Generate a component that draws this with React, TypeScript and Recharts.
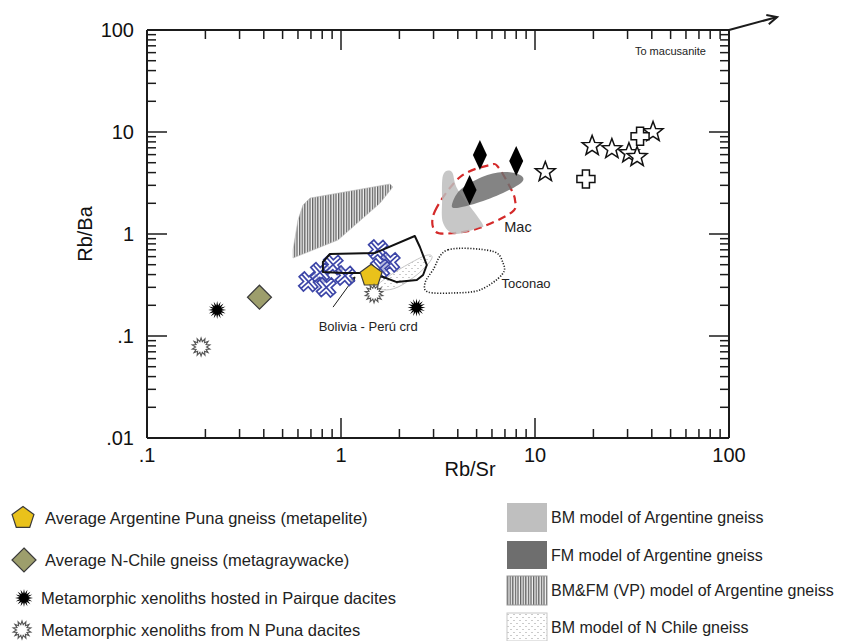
import React from 'react';
import { ScatterChart, Scatter, XAxis, YAxis, ReferenceLine } from 'recharts';

// Rb/Sr (x) vs Rb/Ba (y)
const punaGneiss = [{ x: 1.43, y: 0.39 }];
const chileGneiss = [{ x: 0.38, y: 0.24 }];
const pairqueXenoliths = [{ x: 0.23, y: 0.18 }, { x: 2.45, y: 0.19 }];
const nPunaXenoliths = [{ x: 0.19, y: 0.078 }, { x: 1.48, y: 0.26 }];
const macDiamonds = [{ x: 5.2, y: 5.95 }, { x: 8.0, y: 5.2 }, { x: 4.6, y: 2.7 }];
const openStars = [
  { x: 11.3, y: 4.05 }, { x: 19.7, y: 7.3 }, { x: 24.9, y: 6.8 },
  { x: 30.5, y: 6.2 }, { x: 33.6, y: 5.7 }, { x: 40.6, y: 10 },
];
const openCrosses = [{ x: 18.3, y: 3.46 }, { x: 34.8, y: 9.1 }];
const boliviaPeruCrd = [
  { x: 0.68, y: 0.34 }, { x: 0.78, y: 0.42 }, { x: 0.91, y: 0.5 }, { x: 1.05, y: 0.39 },
  { x: 0.84, y: 0.3 }, { x: 1.55, y: 0.7 }, { x: 1.79, y: 0.53 }, { x: 1.59, y: 0.46 },
];

// model fields / outlines
const vpField = [
  { x: 0.637, y: 1.92 }, { x: 0.692, y: 2.25 }, { x: 1.79, y: 3.09 }, { x: 1.85, y: 2.89 },
  { x: 1.59, y: 2.01 }, { x: 0.965, y: 0.873 }, { x: 0.566, y: 0.582 }, { x: 0.566, y: 0.697 },
  { x: 0.6, y: 1.37 },
];
const bmArgField = [
  { x: 3.36, y: 3.79 }, { x: 3.73, y: 4.05 }, { x: 4.01, y: 2.7 }, { x: 5.33, y: 1.28 },
  { x: 5.08, y: 1.15 }, { x: 3.87, y: 1.0 }, { x: 3.36, y: 1.28 }, { x: 3.32, y: 2.15 },
];
const fmArgField = [
  { x: 3.73, y: 1.92 }, { x: 4.11, y: 2.7 }, { x: 5.33, y: 3.62 }, { x: 6.84, y: 4.05 },
  { x: 8.37, y: 3.79 }, { x: 8.57, y: 3.24 }, { x: 6.84, y: 2.52 }, { x: 5.02, y: 2.01 },
  { x: 3.96, y: 1.8 },
];
const bmChileField = [
  { x: 1.55, y: 0.316 }, { x: 1.9, y: 0.424 }, { x: 2.55, y: 0.582 }, { x: 2.88, y: 0.622 },
  { x: 2.91, y: 0.556 }, { x: 2.49, y: 0.405 }, { x: 1.97, y: 0.302 }, { x: 1.65, y: 0.283 },
];
const macField = [
  { x: 3.05, y: 1.68 }, { x: 4.11, y: 3.62 }, { x: 5.86, y: 4.75 }, { x: 6.45, y: 4.54 },
  { x: 7.43, y: 2.89 }, { x: 7.89, y: 2.15 }, { x: 7.61, y: 1.64 }, { x: 5.2, y: 1.15 },
  { x: 3.78, y: 1.02 }, { x: 3.05, y: 1.07 },
];
const toconaoField = [
  { x: 3.56, y: 0.7 }, { x: 6.0, y: 0.68 }, { x: 6.84, y: 0.52 }, { x: 6.76, y: 0.4 },
  { x: 5.2, y: 0.283 }, { x: 3.78, y: 0.264 }, { x: 2.81, y: 0.27 }, { x: 2.71, y: 0.331 },
  { x: 2.98, y: 0.444 },
];
const boliviaPeruField = [
  { x: 0.807, y: 0.531 }, { x: 0.877, y: 0.637 }, { x: 1.5, y: 0.652 }, { x: 2.4, y: 0.955 },
  { x: 2.55, y: 0.746 }, { x: 2.77, y: 0.497 }, { x: 2.65, y: 0.396 }, { x: 2.46, y: 0.354 },
  { x: 1.94, y: 0.338 }, { x: 1.65, y: 0.379 }, { x: 1.25, y: 0.415 }, { x: 1.02, y: 0.415 },
  { x: 0.807, y: 0.424 },
];

const fieldLabels = [
  { x: 8.17, y: 1.17, text: 'Mac', size: 14.5, anchor: 'middle' },
  { x: 8.99, y: 0.324, text: 'Toconao', size: 13, anchor: 'middle' },
  { x: 1.38, y: 0.125, text: 'Bolivia - Perú crd', size: 13, anchor: 'middle' },
  { x: 76, y: 62, text: 'To macusanite', size: 11, anchor: 'end' },
];
const crdPointer = [{ x: 0.91, y: 0.192 }, { x: 1.18, y: 0.379 }];
const macusaniteArrow = [{ x: 100, y: 100 }, { x: 177, y: 134 }];

const xTicks = [0.1, 0.2, 0.3, 0.4, 0.5, 0.6, 0.7, 0.8, 0.9, 1, 2, 3, 4, 5, 6, 7, 8, 9, 10, 20, 30, 40, 50, 60, 70, 80, 90, 100];
const yTicks = [0.01, 0.02, 0.03, 0.04, 0.05, 0.06, 0.07, 0.08, 0.09, ...xTicks];

const INK = '#1b1b1b';
const FONT = '"Liberation Sans", Arial, sans-serif';

const isMajor = (v: number) => Math.abs(Math.log10(v) - Math.round(Math.log10(v))) < 1e-6;
const fmt = (v: number) => (v < 1 ? String(v).replace(/^0/, '') : String(v));
const tickLen = (v: number) => (isMajor(v) ? 20 : 9);

const BottomTick = ({ x, y, payload }: any) => (
  <g>
    <line x1={x} x2={x} y1={y} y2={y - tickLen(payload.value)} stroke={INK} strokeWidth={1.5} />
    {isMajor(payload.value) && (
      <text x={x} y={y + 24} textAnchor="middle" fontSize={20} fill="#111">{fmt(payload.value)}</text>
    )}
  </g>
);
const TopTick = ({ x, y, payload }: any) => (
  <line x1={x} x2={x} y1={y} y2={y + tickLen(payload.value)} stroke={INK} strokeWidth={1.5} />
);
const LeftTick = ({ x, y, payload }: any) => (
  <g>
    <line x1={x} x2={x + tickLen(payload.value)} y1={y} y2={y} stroke={INK} strokeWidth={1.5} />
    {isMajor(payload.value) && (
      <text x={x - 13} y={y + 7} textAnchor="end" fontSize={20} fill="#111">{fmt(payload.value)}</text>
    )}
  </g>
);
const RightTick = ({ x, y, payload }: any) => (
  <line x1={x} x2={x - tickLen(payload.value)} y1={y} y2={y} stroke={INK} strokeWidth={1.5} />
);

const polyPoints = (cx: number, cy: number, n: number, ro: number, ri: number) => {
  let d = '';
  for (let i = 0; i < n * 2; i++) {
    const r = i % 2 === 0 ? ro : ri;
    const a = -Math.PI / 2 + (i * Math.PI) / n;
    d += (i === 0 ? 'M' : 'L') + (cx + r * Math.cos(a)).toFixed(2) + ',' + (cy + r * Math.sin(a)).toFixed(2);
  }
  return d + 'Z';
};
const pentagon = (cx: number, cy: number, r: number) => polyPoints(cx, cy, 5, r, r * Math.cos(Math.PI / 5));

const closedPath = (pts: { x: number; y: number }[], smooth: boolean) => {
  if (!pts.length) return '';
  if (!smooth) return pts.map((p, i) => `${i ? 'L' : 'M'}${p.x.toFixed(1)},${p.y.toFixed(1)}`).join('') + 'Z';
  const n = pts.length;
  let d = `M${pts[0].x.toFixed(1)},${pts[0].y.toFixed(1)}`;
  for (let i = 0; i < n; i++) {
    const p0 = pts[(i - 1 + n) % n], p1 = pts[i], p2 = pts[(i + 1) % n], p3 = pts[(i + 2) % n];
    const c1x = p1.x + (p2.x - p0.x) / 6, c1y = p1.y + (p2.y - p0.y) / 6;
    const c2x = p2.x - (p3.x - p1.x) / 6, c2y = p2.y - (p3.y - p1.y) / 6;
    d += `C${c1x.toFixed(1)},${c1y.toFixed(1)} ${c2x.toFixed(1)},${c2y.toFixed(1)} ${p2.x.toFixed(1)},${p2.y.toFixed(1)}`;
  }
  return d + 'Z';
};

const fieldLine = (style: any, smooth: boolean, defs?: React.ReactNode) => (props: any) => (
  <g>
    {defs}
    <path d={closedPath(props.points || [], smooth)} {...style} />
  </g>
);
const noDot = () => <g />;

const HatchDefs = ({ id }: { id: string }) => (
  <defs>
    <pattern id={id} patternUnits="userSpaceOnUse" width={2.6} height={10}>
      <rect width={2.6} height={10} fill="#f4f4f4" />
      <line x1={0.7} x2={0.7} y1={0} y2={10} stroke="#333" strokeWidth={1} />
    </pattern>
  </defs>
);
const DotDefs = ({ id }: { id: string }) => (
  <defs>
    <pattern id={id} patternUnits="userSpaceOnUse" width={6} height={6}>
      <rect width={6} height={6} fill="#fff" />
      <circle cx={1} cy={1.5} r={0.55} fill="#888" />
      <circle cx={4} cy={4.5} r={0.55} fill="#888" />
    </pattern>
  </defs>
);

const PentagonShape = ({ cx, cy }: any) => (
  <path d={pentagon(cx, cy, 11.5)} fill="#e9c21b" stroke="#3a3a3a" strokeWidth={1.2} />
);
const KhakiDiamond = ({ cx, cy }: any) => (
  <path d={`M${cx},${cy - 12}L${cx + 12},${cy}L${cx},${cy + 12}L${cx - 12},${cy}Z`} fill="#9d9e6c" stroke="#3a3a3a" strokeWidth={1.2} />
);
const BlackBurst = ({ cx, cy }: any) => <path d={polyPoints(cx, cy, 16, 9, 4.5)} fill="#000" />;
const WhiteBurst = ({ cx, cy }: any) => (
  <path d={polyPoints(cx, cy, 14, 9, 5.5)} fill="#fff" stroke="#555" strokeWidth={1.1} />
);
const TallDiamond = ({ cx, cy }: any) => (
  <path d={`M${cx},${cy - 15}L${cx + 7},${cy}L${cx},${cy + 15}L${cx - 7},${cy}Z`} fill="#000" />
);
const OpenStar = ({ cx, cy }: any) => (
  <path d={polyPoints(cx, cy, 5, 10.5, 4.4)} fill="#fff" stroke="#111" strokeWidth={1.5} />
);
const OpenCross = ({ cx, cy }: any) => (
  <path
    d={`M${cx - 3.5},${cy - 9}h7v5.5h5.5v7h-5.5v5.5h-7v-5.5h-5.5v-7h5.5Z`}
    fill="#fff"
    stroke="#111"
    strokeWidth={1.5}
  />
);
const CrdShape = ({ cx, cy }: any) => (
  <g transform={`translate(${cx},${cy}) rotate(-42)`} stroke="#3d46a8" strokeWidth={1.7}>
    <path d="M-3.5,-10H3.5V-3.5H10V3.5H3.5V10H-3.5V3.5H-10V-3.5H-3.5Z" fill="#fff" fillOpacity={0.6} />
    <path d="M0,-10V10M-10,0H10" fill="none" />
  </g>
);
const LabelShape = ({ cx, cy, payload }: any) => (
  <text x={cx} y={cy} textAnchor={payload.anchor} dominantBaseline="central" fontSize={payload.size} fill="#222">
    {payload.text}
  </text>
);

const arrowShape = (width: number, head: number, open: boolean) => (props: any) => {
  const { x1, y1, x2, y2 } = props;
  const a = Math.atan2(y2 - y1, x2 - x1);
  const w1x = x2 - head * Math.cos(a - 0.45), w1y = y2 - head * Math.sin(a - 0.45);
  const w2x = x2 - head * Math.cos(a + 0.45), w2y = y2 - head * Math.sin(a + 0.45);
  return (
    <g>
      <line x1={x1} y1={y1} x2={x2} y2={y2} stroke={INK} strokeWidth={width} />
      <path
        d={open ? `M${w1x},${w1y}L${x2},${y2}L${w2x},${w2y}` : `M${w1x},${w1y}L${x2},${y2}L${w2x},${w2y}Z`}
        fill={open ? 'none' : INK}
        stroke={INK}
        strokeWidth={width}
      />
    </g>
  );
};

const XTitle = (props: any) => {
  const vb = props.viewBox;
  return (
    <text x={vb.x + vb.width * 0.555} y={vb.y + 38} textAnchor="middle" fontSize={20} fill="#111">Rb/Sr</text>
  );
};
const YTitle = (props: any) => {
  const vb = props.viewBox;
  const cx = vb.x + vb.width - 62;
  const cy = vb.y + vb.height / 2;
  return (
    <text x={cx} y={cy} transform={`rotate(-90 ${cx} ${cy})`} textAnchor="middle" dominantBaseline="central" fontSize={20} fill="#111">
      Rb/Ba
    </text>
  );
};

const axisLine = { stroke: INK, strokeWidth: 2 };
const ids = { xAxisId: 'b', yAxisId: 'l' };

const legendLeft = [
  { y: 518, tx: 45, text: 'Average Argentine Puna gneiss (metapelite)' },
  { y: 560, tx: 45, text: 'Average N-Chile gneiss (metagraywacke)' },
  { y: 598, tx: 41, text: 'Metamorphic xenoliths hosted in Pairque dacites' },
  { y: 630, tx: 41, text: 'Metamorphic xenoliths from N Puna dacites' },
];
const legendRight = [
  { top: 503, h: 29, text: 'BM model of Argentine gneiss' },
  { top: 541, h: 28, text: 'FM model of Argentine gneiss' },
  { top: 576, h: 29, text: 'BM&FM (VP) model of Argentine gneiss' },
  { top: 613, h: 28, text: 'BM model of N Chile gneiss' },
];

const LegendBlock = () => {
  const o = 490;
  const swatchFill = ['#bfbfbf', '#6e6e6e', 'url(#vpHatchLg)', 'url(#chileDotsLg)'];
  const swatchStroke = ['none', 'none', '#999', '#c8c8c8'];
  return (
    <svg width={845} height={151} style={{ position: 'absolute', left: 0, top: o }}>
      <HatchDefs id="vpHatchLg" />
      <DotDefs id="chileDotsLg" />
      <PentagonShape cx={23} cy={legendLeft[0].y - o} />
      <KhakiDiamond cx={24} cy={legendLeft[1].y - o} />
      <BlackBurst cx={24} cy={legendLeft[2].y - o} />
      <WhiteBurst cx={22} cy={legendLeft[3].y - o} />
      {legendLeft.map((r) => (
        <text key={r.text} x={r.tx} y={r.y - o} dominantBaseline="central" fontSize={16.5} fill="#222">
          {r.text}
        </text>
      ))}
      {legendRight.map((r, i) => (
        <g key={r.text}>
          <rect x={507} y={r.top - o} width={40} height={r.h} fill={swatchFill[i]} stroke={swatchStroke[i]} />
          <text x={551} y={r.top - o + r.h / 2} dominantBaseline="central" fontSize={16} fill="#222">
            {r.text}
          </text>
        </g>
      ))}
    </svg>
  );
};

export default function App() {
  return (
    <div style={{ position: 'absolute', left: 0, top: 0, width: 845, height: 641, background: '#fff', fontFamily: FONT }}>
      <ScatterChart width={845} height={641} margin={{ top: 29, right: 115, bottom: 202, left: 146 }}>
        <XAxis
          xAxisId="b"
          dataKey="x"
          type="number"
          scale="log"
          domain={[0.1, 100]}
          allowDataOverflow
          ticks={xTicks}
          interval={0}
          tick={BottomTick}
          tickLine={false}
          tickSize={0}
          tickMargin={0}
          height={1}
          axisLine={axisLine}
          label={XTitle}
        />
        <XAxis
          xAxisId="t"
          orientation="top"
          dataKey="x"
          type="number"
          scale="log"
          domain={[0.1, 100]}
          allowDataOverflow
          ticks={xTicks}
          interval={0}
          tick={TopTick}
          tickLine={false}
          tickSize={0}
          tickMargin={0}
          height={1}
          axisLine={axisLine}
        />
        <YAxis
          yAxisId="l"
          dataKey="y"
          type="number"
          scale="log"
          domain={[0.01, 100]}
          allowDataOverflow
          ticks={yTicks}
          interval={0}
          tick={LeftTick}
          tickLine={false}
          tickSize={0}
          tickMargin={0}
          width={1}
          axisLine={axisLine}
          label={YTitle}
        />
        <YAxis
          yAxisId="r"
          orientation="right"
          dataKey="y"
          type="number"
          scale="log"
          domain={[0.01, 100]}
          allowDataOverflow
          ticks={yTicks}
          interval={0}
          tick={RightTick}
          tickLine={false}
          tickSize={0}
          tickMargin={0}
          width={1}
          axisLine={axisLine}
        />

        <Scatter {...ids} name="VP field" data={vpField} shape={noDot} isAnimationActive={false}
          line={fieldLine({ fill: 'url(#vpHatch)', stroke: '#bbb', strokeWidth: 0.6 }, false, <HatchDefs id="vpHatch" />)} />
        <Scatter {...ids} name="Mac" data={macField} shape={noDot} isAnimationActive={false}
          line={fieldLine({ fill: 'none', stroke: '#d42a2a', strokeWidth: 2.2, strokeDasharray: '8 5' }, true)} />
        <Scatter {...ids} name="BM Arg" data={bmArgField} shape={noDot} isAnimationActive={false}
          line={fieldLine({ fill: '#bdbdbd', fillOpacity: 0.85, stroke: 'none' }, true)} />
        <Scatter {...ids} name="FM Arg" data={fmArgField} shape={noDot} isAnimationActive={false}
          line={fieldLine({ fill: '#6f6f6f', fillOpacity: 0.85, stroke: 'none' }, true)} />
        <Scatter {...ids} name="BM Chile" data={bmChileField} shape={noDot} isAnimationActive={false}
          line={fieldLine({ fill: 'url(#chileDots)', stroke: '#c4c4c4', strokeWidth: 1 }, true, <DotDefs id="chileDots" />)} />
        <Scatter {...ids} name="Toconao" data={toconaoField} shape={noDot} isAnimationActive={false}
          line={fieldLine({ fill: 'none', stroke: '#222', strokeWidth: 1.6, strokeDasharray: '1.2 1.6' }, true)} />
        <Scatter {...ids} name="Bolivia-Peru crd" data={boliviaPeruCrd} shape={CrdShape} isAnimationActive={false} />
        <Scatter {...ids} name="Bolivia-Peru field" data={boliviaPeruField} shape={noDot} isAnimationActive={false}
          line={fieldLine({ fill: 'none', stroke: '#111', strokeWidth: 2, strokeLinejoin: 'round' }, false)} />

        <ReferenceLine {...ids} segment={crdPointer} ifOverflow="visible" shape={arrowShape(1, 5, false)} />
        <ReferenceLine {...ids} segment={macusaniteArrow} ifOverflow="visible" shape={arrowShape(2, 11, true)} />

        <Scatter {...ids} name="Puna gneiss" data={punaGneiss} shape={PentagonShape} isAnimationActive={false} />
        <Scatter {...ids} name="N-Chile gneiss" data={chileGneiss} shape={KhakiDiamond} isAnimationActive={false} />
        <Scatter {...ids} name="Pairque" data={pairqueXenoliths} shape={BlackBurst} isAnimationActive={false} />
        <Scatter {...ids} name="N Puna" data={nPunaXenoliths} shape={WhiteBurst} isAnimationActive={false} />
        <Scatter {...ids} name="Mac diamonds" data={macDiamonds} shape={TallDiamond} isAnimationActive={false} />
        <Scatter {...ids} name="stars" data={openStars} shape={OpenStar} isAnimationActive={false} />
        <Scatter {...ids} name="crosses" data={openCrosses} shape={OpenCross} isAnimationActive={false} />
        <Scatter {...ids} name="labels" data={fieldLabels} shape={LabelShape} isAnimationActive={false} />
      </ScatterChart>
      <LegendBlock />
    </div>
  );
}
